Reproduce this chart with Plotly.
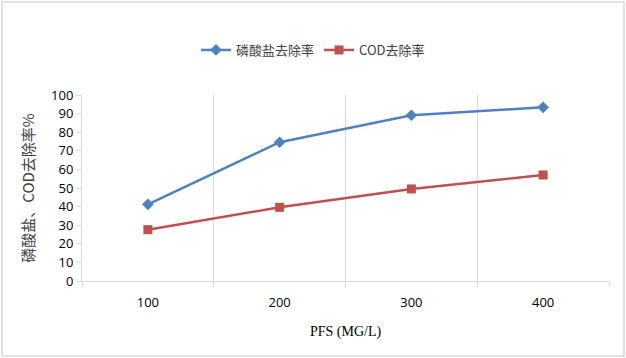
import plotly.graph_objects as go

categories = ["100", "200", "300", "400"]
phosphate_removal = [41.2, 74.6, 89.1, 93.4]
cod_removal = [27.6, 39.6, 49.5, 57.0]
y_ticks = list(range(0, 101, 10))

W, H = 626, 358
ml, mr, mt, mb = 82, 17, 95, 77
pw, ph = W - ml - mr, H - mt - mb

def px_x(p):
    return (p - ml) / pw

def px_y(p):
    return (H - mb - p) / ph

fig = go.Figure()
fig.add_trace(go.Scatter(
    x=categories, y=phosphate_removal, mode="lines+markers", name="磷酸盐去除率",
    line=dict(color="#4F81BD", width=2.5),
    marker=dict(symbol="diamond", size=9, color="#4F81BD"),
))
fig.add_trace(go.Scatter(
    x=categories, y=cod_removal, mode="lines+markers", name="COD去除率",
    line=dict(color="#C0504D", width=2.5),
    marker=dict(symbol="square", size=9, color="#C0504D"),
))

fig.update_layout(
    width=W, height=H,
    margin=dict(l=ml, r=mr, t=mt, b=mb),
    paper_bgcolor="white", plot_bgcolor="white",
    font=dict(family="Noto Sans CJK SC, Noto Sans, sans-serif", color="#404040", size=12),
    showlegend=True,
    legend=dict(orientation="h", x=px_x(313), xanchor="center", y=px_y(50), yanchor="middle",
                font=dict(size=13, color="#404040"), itemwidth=30, tracegroupgap=0),
    shapes=[dict(type="rect", xref="paper", yref="paper",
                 x0=px_x(2), x1=px_x(624), y0=px_y(356), y1=px_y(2),
                 line=dict(color="#D9D9D9", width=1.5), fillcolor="rgba(0,0,0,0)", layer="below")],
)
fig.update_xaxes(
    type="category", range=[-0.5, 3.5], tickson="boundaries",
    showgrid=True, gridcolor="#D9D9D9", gridwidth=1,
    showline=True, linecolor="#D9D9D9", linewidth=1,
    ticks="outside", ticklen=5, tickcolor="#D9D9D9",
    tickfont=dict(family="Open Sans, Noto Sans, sans-serif", size=13, color="#000000"),
    ticklabelstandoff=9,
    title=dict(text="PFS (MG/L)", font=dict(family="Liberation Serif, serif", size=14, color="#000000"), standoff=16),
    zeroline=False,
)
fig.update_yaxes(
    range=[0, 100], tickvals=y_ticks, showgrid=False,
    showline=True, linecolor="#D9D9D9", linewidth=1,
    ticks="outside", ticklen=5, tickcolor="#D9D9D9",
    tickfont=dict(family="Open Sans, Noto Sans, sans-serif", size=13, color="#000000"),
    title=dict(text="磷酸盐、COD去除率%", font=dict(size=15, color="#404040"), standoff=12),
    zeroline=False,
)

fig.write_html("out.html", config={"displayModeBar": False},
               post_script="document.body.style.margin='0';document.body.style.padding='0';")
